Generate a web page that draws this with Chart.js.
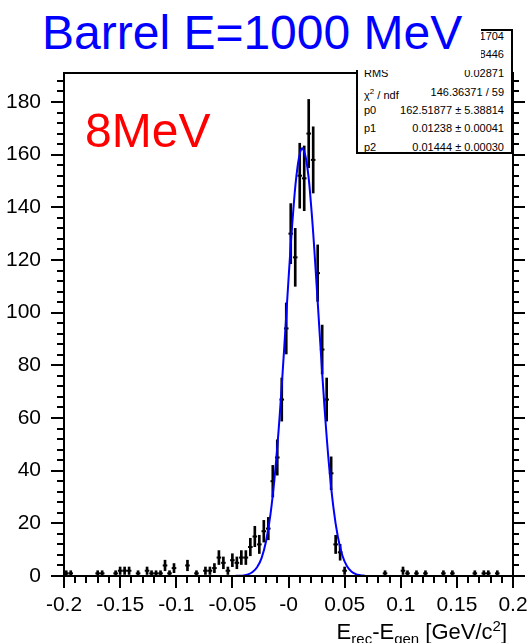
<!DOCTYPE html>
<html>
<head>
<meta charset="utf-8">
<script src="https://cdn.jsdelivr.net/npm/chart.js@4.4.1/dist/chart.umd.min.js"></script>
<style>
  body { margin: 0; background: #fff; font-family: "Liberation Sans", Arial, sans-serif; }
  #wrap { position: relative; width: 528px; height: 643px; overflow: hidden; }
  canvas { position: absolute; left: 0; top: 0; }
  .stats { position: absolute; left: 356px; top: 29px; width: 153px; height: 121px;
           border: 2px solid #000; background: #fff; font-size: 11px; color: #000; }
  .row { position: absolute; left: 6px; right: 7px; height: 14px; line-height: 14px; white-space: nowrap; }
  .row .k { position: absolute; left: 0; }
  .row .v { position: absolute; right: 0; }
  .title { position: absolute; left: 0; top: 0; width: 481px; height: 70px; background: #fff; }
  .title span { position: absolute; left: 42px; top: 9px; font-size: 48px; line-height: 48px; color: #0000ff; white-space: nowrap; }
  .tag { position: absolute; left: 85px; top: 107px; font-size: 48px; line-height: 48px; color: #ff0000; }
  .xtitle { position: absolute; right: 21px; top: 615px; font-size: 22px; line-height: 22px; white-space: nowrap; }
  .xtitle sub { font-size: 15px; vertical-align: -5px; }
  .xtitle sup { font-size: 15px; vertical-align: 8px; }
</style>
</head>
<body>
<div id="wrap">
  <canvas id="c" width="528" height="643"></canvas>
  <div class="stats">
    <div class="row" style="top:-2px"><span class="k">Entries</span><span class="v">1704</span></div>
    <div class="row" style="top:16px"><span class="k">Mean</span><span class="v">0.008446</span></div>
    <div class="row" style="top:35px"><span class="k">RMS</span><span class="v">0.02871</span></div>
    <div class="row" style="top:54px"><span class="k">&chi;<sup style="font-size:8px">2</sup> / ndf</span><span class="v">146.36371 / 59</span></div>
    <div class="row" style="top:72px"><span class="k">p0</span><span class="v">162.51877 &plusmn; 5.38814</span></div>
    <div class="row" style="top:90px"><span class="k">p1</span><span class="v">0.01238 &plusmn; 0.00041</span></div>
    <div class="row" style="top:109px"><span class="k">p2</span><span class="v">0.01444 &plusmn; 0.00030</span></div>
  </div>
  <div class="title"><span>Barrel E=1000 MeV</span></div>
  <div class="tag">8MeV</div>
  <div class="xtitle">E<sub>rec</sub>-E<sub>gen</sub> [GeV/c<sup>2</sup>]</div>
</div>
<script>
// histogram bins (centre, counts) -- only filled bins
const binCentres = [
  -0.198, -0.194, -0.170, -0.166, -0.154, -0.150, -0.146, -0.142, -0.134, -0.126,
  -0.122, -0.118, -0.114, -0.110, -0.106, -0.102, -0.090, -0.082, -0.074, -0.070,
  -0.066, -0.062, -0.058, -0.054, -0.050, -0.046, -0.042, -0.038, -0.034, -0.030,
  -0.026, -0.022, -0.018, -0.014, -0.010, -0.006, -0.002, 0.002, 0.006, 0.010,
  0.014, 0.018, 0.022, 0.026, 0.030, 0.034, 0.038, 0.042, 0.046, 0.050,
  0.086, 0.102, 0.106, 0.114, 0.122, 0.138, 0.146, 0.166, 0.174, 0.178, 0.186
];
const binCounts = [
  1, 1, 1, 1, 1, 2, 2, 2, 1, 2,
  1, 1, 1, 4, 1, 3, 4, 1, 2, 2,
  3, 7, 5, 2, 6, 5, 7, 7, 11, 15,
  12, 17, 18, 36, 45, 67, 94, 130, 121, 152,
  151, 168, 158, 115, 86, 67, 39, 12, 9, 2,
  1, 2, 1, 1, 1, 1, 1, 1, 1, 1, 1
];

// gaussian fit curve
const fitX = [
  -0.048, -0.044, -0.040, -0.036, -0.032, -0.028, -0.024, -0.020, -0.016, -0.012,
  -0.008, -0.004, 0.000, 0.004, 0.008, 0.012, 0.016, 0.020, 0.024, 0.028,
  0.032, 0.036, 0.040, 0.044, 0.048, 0.052, 0.056, 0.060, 0.064, 0.068
];
const fitY = [
  0.0, 0.1, 0.2, 0.6, 1.5, 3.3, 6.8, 13.2, 23.6, 39.1,
  60.0, 85.4, 112.6, 137.3, 155.2, 162.4, 157.5, 141.4, 117.5, 90.5,
  64.5, 42.6, 26.1, 14.8, 7.8, 3.8, 1.7, 0.7, 0.3, 0.1
];

const xTickValues = [-0.2, -0.15, -0.1, -0.05, 0, 0.05, 0.1, 0.15, 0.2];
const xTickLabels = ['-0.2', '-0.15', '-0.1', '-0.05', '-0', '0.05', '0.1', '0.15', '0.2'];
const yTickValues = [0, 20, 40, 60, 80, 100, 120, 140, 160, 180];

const errBars = binCentres.map((x, i) => {
  const n = binCounts[i];
  return { x: x, y: [n - Math.sqrt(n), n + Math.sqrt(n)] };
});
const centres = binCentres.map((x, i) => ({ x: x, y: binCounts[i] }));
const fitPts = fitX.map((x, i) => ({ x: x, y: fitY[i] }));

// ROOT-like frame with major + minor ticks outside the frame
const frameTicks = {
  id: 'frameTicks',
  afterDraw(chart) {
    const { ctx, chartArea: a, scales } = chart;
    const xs = scales.x, ys = scales.y;
    ctx.save();
    ctx.strokeStyle = '#000';
    ctx.lineWidth = 2;
    ctx.strokeRect(a.left, a.top, a.right - a.left, a.bottom - a.top);
    ctx.beginPath();
    for (let i = 0; i <= 40; i++) {
      const px = Math.round(xs.getPixelForValue(-0.2 + i * 0.01));
      const len = i % 5 === 0 ? 12 : 7;
      ctx.moveTo(px, a.bottom);
      ctx.lineTo(px, a.bottom + len);
    }
    for (let i = 0; i * 4 <= 190; i++) {
      const py = Math.round(ys.getPixelForValue(i * 4));
      const len = i % 5 === 0 ? 13 : 7;
      ctx.moveTo(a.left, py);
      ctx.lineTo(a.left - len, py);
      ctx.moveTo(a.right, py);
      ctx.lineTo(a.right + (i % 5 === 0 ? 12 : 6), py);
    }
    ctx.stroke();
    ctx.restore();
  }
};

new Chart(document.getElementById('c'), {
  type: 'scatter',
  data: {
    datasets: [
      {
        type: 'line',
        data: fitPts,
        borderColor: '#0000ff',
        borderWidth: 2,
        pointRadius: 0,
        tension: 0.4,
        fill: false,
        order: 0
      },
      {
        type: 'scatter',
        data: centres,
        pointStyle: 'line',
        pointRadius: 2.3,
        pointBorderWidth: 2,
        borderColor: '#000',
        backgroundColor: '#000',
        order: 1
      },
      {
        type: 'bar',
        data: errBars,
        backgroundColor: '#000',
        borderWidth: 0,
        barThickness: 2,
        order: 2
      }
    ]
  },
  options: {
    responsive: false,
    animation: false,
    devicePixelRatio: 1,
    layout: { padding: { top: 73, left: 0, right: 15, bottom: 0 } },
    plugins: { legend: { display: false }, tooltip: { enabled: false } },
    scales: {
      x: {
        type: 'linear',
        min: -0.2,
        max: 0.2,
        offset: false,
        grid: { display: false },
        border: { display: false },
        afterBuildTicks: s => { s.ticks = xTickValues.map(v => ({ value: v })); },
        afterFit: s => { s.height = 67; s.paddingLeft = 0; s.paddingRight = 0; },
        ticks: {
          autoSkip: false,
          maxRotation: 0,
          padding: 9,
          color: '#000',
          font: { family: 'Liberation Sans', size: 21 },
          callback: (v, i) => xTickLabels[i]
        }
      },
      y: {
        type: 'linear',
        min: 0,
        max: 191,
        grid: { display: false },
        border: { display: false },
        afterBuildTicks: s => { s.ticks = yTickValues.map(v => ({ value: v })); },
        afterFit: s => { s.width = 64; s.paddingTop = 0; s.paddingBottom = 0; },
        ticks: {
          padding: 15,
          color: '#000',
          font: { family: 'Liberation Sans', size: 21 }
        }
      }
    }
  },
  plugins: [frameTicks]
});
</script>
</body>
</html>
